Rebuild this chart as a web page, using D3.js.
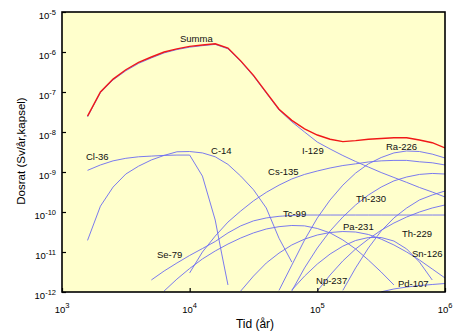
<!DOCTYPE html>
<html><head><meta charset="utf-8">
<script src="https://cdn.jsdelivr.net/npm/d3@7"></script>
<style>
html,body{margin:0;padding:0;background:#fff;}
svg{display:block;font-family:"Liberation Sans",Arial,sans-serif;}
</style></head>
<body>
<svg id="c" width="455" height="335"></svg>
<script>
// ---- data ----
const grid = [1.585e3,2e3,2.512e3,3.162e3,3.981e3,5.012e3,6.31e3,7.943e3,1e4,1.259e4,1.585e4,1.995e4,2.512e4,3.162e4,3.981e4,5.012e4,6.31e4,7.943e4,1e5,1.259e5,1.585e5,1.995e5,2.512e5,3.162e5,3.981e5,5.012e5,6.31e5,7.943e5,1e6];

const summaTime = grid;
const summaDose = [2.5e-8,1.0e-7,2.1e-7,3.6e-7,5.5e-7,7.5e-7,1.0e-6,1.2e-6,1.38e-6,1.5e-6,1.6e-6,1.25e-6,6.0e-7,2.6e-7,9.8e-8,3.7e-8,1.95e-8,1.2e-8,8.4e-9,6.6e-9,5.75e-9,6.1e-9,6.6e-9,6.9e-9,7.2e-9,7.2e-9,6.3e-9,5.4e-9,4.0e-9];

const cl36Time = [1.585e3,2e3,2.512e3,3.162e3,3.981e3,5.012e3,6.31e3,7.943e3,1e4,1.259e4,1.585e4,1.778e4,1.995e4];
const cl36Dose = [1.1e-9,1.5e-9,1.9e-9,2.2e-9,2.4e-9,2.5e-9,2.6e-9,2.65e-9,2.65e-9,7.9e-10,6.3e-11,9.4e-12,1.5e-12];

const c14Time = grid.slice(0,17);
const c14Dose = [1.95e-11,1.4e-10,4.2e-10,8.9e-10,1.4e-9,2.0e-9,2.6e-9,3.2e-9,3.25e-9,3.0e-9,2.4e-9,1.55e-9,7.9e-10,3.6e-10,1.26e-10,2.2e-11,5.6e-12];

const i129Time = grid;
const i129Dose = [2.4e-8,9.6e-8,2.0e-7,3.4e-7,5.2e-7,7.1e-7,9.5e-7,1.15e-6,1.32e-6,1.44e-6,1.55e-6,1.2e-6,5.8e-7,2.5e-7,9.4e-8,3.55e-8,1.8e-8,1.0e-8,5.6e-9,3.76e-9,2.58e-9,1.83e-9,1.33e-9,9.7e-10,7.3e-10,5.5e-10,4.1e-10,3.16e-10,2.37e-10];

const cs135Time = grid.slice(8);
const cs135Dose = [3.0e-12,1.0e-11,2.5e-11,5.6e-11,1.06e-10,1.9e-10,3.1e-10,4.7e-10,6.7e-10,8.7e-10,1.06e-9,1.26e-9,1.45e-9,1.6e-9,1.78e-9,1.9e-9,1.95e-9,1.95e-9,1.8e-9,1.7e-9,1.5e-9];

const ra226Time = grid.slice(15);
const ra226Dose = [1.1e-12,4.7e-12,2.0e-11,7.1e-11,2.0e-10,4.7e-10,9.4e-10,1.6e-9,2.3e-9,3.0e-9,3.35e-9,3.25e-9,2.8e-9,2.24e-9];

const th230Time = grid.slice(16);
const th230Dose = [1.06e-12,4.0e-12,1.26e-11,3.35e-11,7.5e-11,1.5e-10,2.66e-10,4.2e-10,6.0e-10,7.5e-10,8.7e-10,9.2e-10,8.9e-10];

const th229Time = grid.slice(20);
const th229Dose = [1.1e-12,4.0e-12,1.26e-11,3.35e-11,7.1e-11,1.26e-10,2.0e-10,2.66e-10,3.35e-10];

const np237Time = grid.slice(18);
const np237Dose = [1.06e-12,2.66e-12,6.0e-12,1.19e-11,2.1e-11,3.5e-11,5.3e-11,7.5e-11,1.0e-10,1.26e-10,1.5e-10];

const pa231Time = grid.slice(16,28);
const pa231Dose = [1.12e-12,2.5e-12,5.0e-12,8.9e-12,1.4e-11,1.94e-11,2.3e-11,2.3e-11,1.88e-11,1.19e-11,5.6e-12,2.0e-12];

const sn126Time = grid.slice(12);
const sn126Dose = [1.06e-12,2.5e-12,5.3e-12,9.4e-12,1.5e-11,2.1e-11,2.66e-11,3.07e-11,3.25e-11,3.16e-11,2.74e-11,2.1e-11,1.5e-11,1.0e-11,6.3e-12,3.76e-12,2.24e-12];

const se79Time = grid.slice(6,25);
const se79Dose = [1.06e-12,2.1e-12,3.87e-12,6.7e-12,1.06e-11,1.58e-11,2.24e-11,3.0e-11,3.76e-11,4.3e-11,4.6e-11,4.5e-11,3.87e-11,3.0e-11,2.0e-11,1.19e-11,6.3e-12,3.16e-12,1.5e-12];

const tc99Time = grid.slice(5);
const tc99Dose = [2.0e-12,3.35e-12,5.3e-12,8.2e-12,1.22e-11,1.83e-11,3.0e-11,4.5e-11,6.0e-11,7.1e-11,7.8e-11,8.2e-11,8.4e-11,8.4e-11,8.4e-11,8.4e-11,8.4e-11,8.4e-11,8.4e-11,8.4e-11,8.4e-11,8.4e-11,8.4e-11,8.4e-11];

const pd107Time = grid.slice(23);
const pd107Dose = [1.01e-12,1.19e-12,1.33e-12,1.45e-12,1.54e-12,1.63e-12];

const labelNames = ["Summa","Cl-36","C-14","Cs-135","I-129","Ra-226","Th-230","Tc-99","Pa-231","Th-229","Se-79","Sn-126","Np-237","Pd-107"];
const labelTime  = [8400,1540,14700,41100,75900,345000,201000,53800,159000,460000,5540,551000,97700,428000];
const labelDose  = [1.78e-6,1.94e-9,2.74e-9,8.2e-10,2.74e-9,3.55e-9,1.83e-10,7.3e-11,3.45e-11,2.44e-11,6.9e-12,7.3e-12,1.54e-12,1.33e-12];

const xTicks = [1e3,1e4,1e5,1e6];
const xTickExp = ["3","4","5","6"];
const yTicks = [1e-12,1e-11,1e-10,1e-9,1e-8,1e-7,1e-6,1e-5];
const yTickExp = ["-12","-11","-10","-9","-8","-7","-6","-5"];

const blueSeries = [
  [cl36Time,cl36Dose],[c14Time,c14Dose],[i129Time,i129Dose],[cs135Time,cs135Dose],
  [ra226Time,ra226Dose],[th230Time,th230Dose],[th229Time,th229Dose],[np237Time,np237Dose],
  [pa231Time,pa231Dose],[sn126Time,sn126Dose],[se79Time,se79Dose],[tc99Time,tc99Dose],[pd107Time,pd107Dose]
];

// ---- drawing ----
const svg = d3.select("#c");
const L=62,R=445,T=12,B=292;
const x = d3.scaleLog().domain([1e3,1e6]).range([L,R]);
const y = d3.scaleLog().domain([1e-12,1e-5]).range([B,T]);

svg.append("defs").append("clipPath").attr("id","clip")
  .append("rect").attr("x",L).attr("y",T).attr("width",R-L).attr("height",B-T);

svg.append("rect").attr("x",L).attr("y",T).attr("width",R-L).attr("height",B-T).attr("fill","#ffffcc");

const line = d3.line().x(d=>x(d[0])).y(d=>y(d[1]));
const g = svg.append("g").attr("clip-path","url(#clip)");
blueSeries.forEach(([ts,ds])=>{
  g.append("path").datum(ts.map((t,i)=>[t,ds[i]])).attr("d",line)
   .attr("fill","none").attr("stroke","#6b6bf2").attr("stroke-width",0.9);
});
g.append("path").datum(summaTime.map((t,i)=>[t,summaDose[i]])).attr("d",line)
  .attr("fill","none").attr("stroke","#f01818").attr("stroke-width",1.4);

// axes (inward ticks)
const ax = svg.append("g").attr("transform",`translate(0,${B})`)
  .call(d3.axisBottom(x).tickValues(xTicks).tickSize(-4).tickFormat(""));
const ay = svg.append("g").attr("transform",`translate(${L},0)`)
  .call(d3.axisLeft(y).tickValues(yTicks).tickSize(-4).tickFormat(""));
[ax,ay].forEach(a=>{a.select(".domain").remove(); a.selectAll("line").attr("stroke","#000").attr("stroke-width",1.2);});

svg.append("rect").attr("x",L).attr("y",T).attr("width",R-L).attr("height",B-T)
  .attr("fill","none").attr("stroke","#000").attr("stroke-width",1.6);

// tick labels
xTicks.forEach((v,i)=>{
  const t = svg.append("text").attr("x",x(v)).attr("y",313).attr("text-anchor","middle")
    .attr("font-size",9.5).attr("fill","#000");
  t.append("tspan").text("10");
  t.append("tspan").attr("dy",-5).attr("font-size",7.5).text(xTickExp[i]);
});
yTicks.forEach((v,i)=>{
  const t = svg.append("text").attr("x",56).attr("y",y(v)+6.5).attr("text-anchor","end")
    .attr("font-size",9.5).attr("fill","#000");
  t.append("tspan").text("10");
  t.append("tspan").attr("dy",-4).attr("font-size",7.5).text(yTickExp[i]);
});

// axis titles
svg.append("text").attr("x",255).attr("y",328).attr("text-anchor","middle")
  .attr("font-size",12).attr("fill","#000").text("Tid (år)");
svg.append("text").attr("transform","translate(25,151) rotate(-90)").attr("text-anchor","middle")
  .attr("font-size",11.5).attr("fill","#000").text("Dosrat (Sv/år,kapsel)");

// curve labels
labelNames.forEach((n,i)=>{
  svg.append("text").attr("x",x(labelTime[i])).attr("y",y(labelDose[i]))
    .attr("font-size",9.5).attr("fill","#111").text(n);
});
</script>
</body></html>
